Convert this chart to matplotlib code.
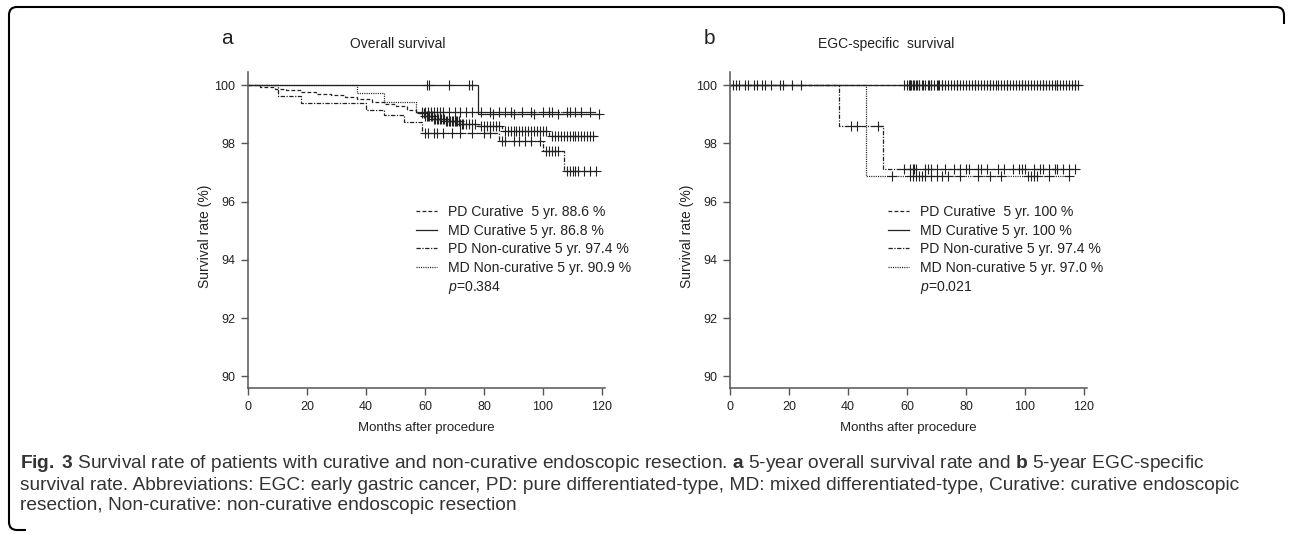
import numpy as np
import matplotlib
matplotlib.use("Agg")
from matplotlib import pyplot as plt
from matplotlib.lines import Line2D
from matplotlib.path import Path
from matplotlib.patches import PathPatch

plt.rcParams['font.family'] = ['Liberation Sans', 'DejaVu Sans']
plt.rcParams['mathtext.fontset'] = 'custom'
plt.rcParams['mathtext.rm'] = 'Liberation Sans'
plt.rcParams['mathtext.it'] = 'Liberation Sans:italic'
plt.rcParams['mathtext.bf'] = 'Liberation Sans:bold'

# 组名 / 线型
groups = ['PD Curative', 'MD Curative', 'PD Non-curative', 'MD Non-curative']
gap = ['  ', ' ', ' ', ' ']
line_styles = [(0, (3, 1.8)), '-', (0, (3.5, 1.2, 1, 1.2)), (0, (0.9, 0.9))]

# a: overall survival -- step times (months) and survival (%) after each step
os_pd_cur_t = [0, 4, 9, 13, 18, 23, 28, 33, 37, 42, 46, 50, 54, 57, 60, 63, 67, 72, 78, 86, 102]
os_pd_cur_s = [100, 99.95, 99.88, 99.82, 99.76, 99.7, 99.65, 99.6, 99.52, 99.42, 99.35, 99.27,
               99.15, 99.05, 98.95, 98.85, 98.77, 98.68, 98.58, 98.42, 98.25]
os_md_cur_t = [0, 78]
os_md_cur_s = [100, 99.0]
os_pd_nc_t = [0, 10, 18, 40, 46, 53, 59, 85, 100, 107]
os_pd_nc_s = [100, 99.62, 99.38, 99.15, 98.98, 98.75, 98.35, 98.07, 97.73, 97.05]
os_md_nc_t = [0, 37, 46, 57]
os_md_nc_s = [100, 99.72, 99.42, 99.08]
os_end = [118, 119, 118, 118]

# censored times
os_pd_cur_c = [59, 59.5, 60, 60.5, 61, 61.5, 62, 62.5, 63, 63.5, 64, 64.5, 65, 65.5, 66, 66.5, 67,
               67.5, 68, 68.5, 69, 69.5, 70, 70.5, 71, 71.5, 72, 72.5, 73, 74, 75, 76, 77, 79, 80,
               81, 82, 83, 84, 85, 87, 88, 89, 90, 91, 92, 93, 94, 95, 96, 97, 98, 99, 100, 101,
               103, 104, 105, 106, 107, 108, 109, 110, 111, 112, 113, 114, 115, 116, 117]
os_md_cur_c = [60.5, 61.5, 68, 75, 76, 83, 90, 97, 105, 119]
os_pd_nc_c = [60, 61, 63, 64, 66, 69, 72, 76, 80, 82, 86, 87, 90, 92, 94, 96, 99,
              101, 102, 103, 104, 105, 108, 109, 110, 111, 112, 114, 116, 118]
os_md_nc_c = [59, 60, 61, 62, 63, 64, 65, 66, 68, 70, 72, 74, 76, 79, 82, 85, 87, 89, 93, 96,
              100, 102, 103, 108, 109, 111, 113, 116]
os_5yr = ['88.6', '86.8', '97.4', '90.9']
os_p = '0.384'

# b: EGC-specific survival
egc_pd_cur_t = [0]
egc_pd_cur_s = [100]
egc_md_cur_t = [0]
egc_md_cur_s = [100]
egc_pd_nc_t = [0, 37, 52]
egc_pd_nc_s = [100, 98.6, 97.12]
egc_md_nc_t = [0, 46]
egc_md_nc_s = [100, 96.87]
egc_end = [118, 118, 118, 115]

egc_pd_cur_c = [1, 3, 5, 6, 8, 9, 11, 12, 14, 17, 21, 24, 59, 60, 60.5, 61, 61.5, 62, 62.5, 63,
                63.5, 64, 65, 65.5, 66, 67, 67.5, 68, 69, 70, 70.5, 71, 72, 73, 74, 75, 76, 77, 78,
                79, 80, 81, 82, 83, 84, 85, 86, 87, 88, 89, 90, 91, 92, 93, 94, 95, 96, 97, 98, 99,
                100, 101, 102, 103, 104, 105, 106, 107, 108, 109, 110, 111, 112, 113, 114, 115,
                116, 117, 118]
egc_md_cur_c = [2, 18, 61, 64, 68, 72, 77, 83, 88, 94, 99, 106, 111, 117]
egc_pd_nc_c = [41, 43, 50, 59, 61, 62, 62.5, 63, 66, 67, 68, 70, 73, 76, 78, 80, 81, 84, 85, 87,
               91, 93, 96, 98, 99, 100, 103, 105, 106, 108, 110, 111, 113, 115, 117]
egc_md_nc_c = [55, 61, 62, 63, 64, 65, 66, 68, 70, 72, 74, 78, 84, 88, 92, 101, 102, 103, 104,
               108, 115]
egc_5yr = ['100', '100', '97.4', '97.0']
egc_p = '0.021'

ink = '#222222'
axis_c = '#555555'

fig = plt.figure(figsize=(12.9, 5.34), dpi=100)


def px(x, y):
    # 图像像素 -> figure 坐标
    return x / 1290, 1 - y / 534


def draw_panel(ax, curves, censors, ends, five_yr, pval, leg_x):
    for (t, s), c, e, ls in zip(curves, censors, ends, line_styles):
        t = np.asarray(t, float)
        s = np.asarray(s, float)
        ax.step(np.append(t, e), np.append(s, s[-1]), where='post', color=ink, lw=0.9, linestyle=ls)
        c = np.asarray(c, float)
        cy = s[np.searchsorted(t, c, side='right') - 1]
        ax.plot(c, cy, linestyle='none', marker='+', ms=7, mew=0.8, color=ink)
    ax.set_xlim(0, 121)
    ax.set_ylim(89.6, 100.45)
    ax.set_xticks(range(0, 121, 20))
    ax.set_yticks(range(90, 101, 2))
    for sp in ['top', 'right']:
        ax.spines[sp].set_visible(False)
    for sp in ['left', 'bottom']:
        ax.spines[sp].set_color(axis_c)
        ax.spines[sp].set_linewidth(1.1)
    ax.tick_params(direction='out', length=5, width=1.0, color=axis_c, labelsize=9,
                   labelcolor=ink, pad=4)
    handles = [Line2D([], [], color=ink, lw=0.9, linestyle=ls) for ls in line_styles]
    handles.append(Line2D([], [], color='none'))
    labels = [g + gap[i] + '5 yr. ' + v + ' %' for i, (g, v) in enumerate(zip(groups, five_yr))]
    labels.append('$p$=' + pval)
    ax.legend(handles, labels, loc='upper left', bbox_to_anchor=(leg_x, 0.578), frameon=False,
              fontsize=10.1, handlelength=1.5, handletextpad=0.8, labelspacing=0.32,
              borderpad=0, borderaxespad=0, labelcolor=ink)


ax1 = fig.add_axes([248 / 1290, 146 / 534, 357 / 1290, 316 / 534])
draw_panel(ax1,
           [(os_pd_cur_t, os_pd_cur_s), (os_md_cur_t, os_md_cur_s),
            (os_pd_nc_t, os_pd_nc_s), (os_md_nc_t, os_md_nc_s)],
           [os_pd_cur_c, os_md_cur_c, os_pd_nc_c, os_md_nc_c], os_end, os_5yr, os_p, 0.47)

ax2 = fig.add_axes([730 / 1290, 146 / 534, 357 / 1290, 316 / 534])
draw_panel(ax2,
           [(egc_pd_cur_t, egc_pd_cur_s), (egc_md_cur_t, egc_md_cur_s),
            (egc_pd_nc_t, egc_pd_nc_s), (egc_md_nc_t, egc_md_nc_s)],
           [egc_pd_cur_c, egc_md_cur_c, egc_pd_nc_c, egc_md_nc_c], egc_end, egc_5yr, egc_p, 0.443)

# 面板标签 / 标题 / 轴标题
for dx, letter, title in [(0, 'a', 'Overall survival'), (482, 'b', 'EGC-specific  survival')]:
    fig.text(*px(227 + dx, 38), letter, fontsize=15, ha='center', va='center', color=ink)
    fig.text(*px(398 + dx + (6 if dx else 0), 44), title, fontsize=10, ha='center', va='center',
             color=ink)
    fig.text(*px(205 + dx, 236), 'Survival rate (%)', fontsize=10, rotation=90,
             ha='center', va='center', color=ink)
    fig.text(*px(426 + dx, 428), 'Months after procedure', fontsize=9.5, ha='center',
             va='center', color=ink)

# 图注
cap_lines = [
    r'$\mathbf{Fig.\;3}$ Survival rate of patients with curative and non-curative endoscopic resection. '
    r'$\mathbf{a}$ 5-year overall survival rate and $\mathbf{b}$ 5-year EGC-specific',
    'survival rate. Abbreviations: EGC: early gastric cancer, PD: pure differentiated-type, '
    'MD: mixed differentiated-type, Curative: curative endoscopic',
    'resection, Non-curative: non-curative endoscopic resection',
]
for i, line in enumerate(cap_lines):
    fig.text(*px(20, 464 + i * 21), line, fontsize=13.8, ha='left', va='center', color='#333333')

# 圆角边框
verts = [px(1284, 24), px(1284, 15), px(1284, 7), px(1276, 7), px(17, 7), px(9, 7), px(9, 15),
         px(9, 522), px(9, 530), px(17, 530), px(26, 530)]
codes = [Path.MOVETO, Path.LINETO, Path.CURVE3, Path.CURVE3, Path.LINETO, Path.CURVE3, Path.CURVE3,
         Path.LINETO, Path.CURVE3, Path.CURVE3, Path.LINETO]
fig.add_artist(PathPatch(Path(verts, codes), transform=fig.transFigure, fill=False, lw=1.5,
                         edgecolor='black'))

fig.savefig('out.png', dpi=100)
